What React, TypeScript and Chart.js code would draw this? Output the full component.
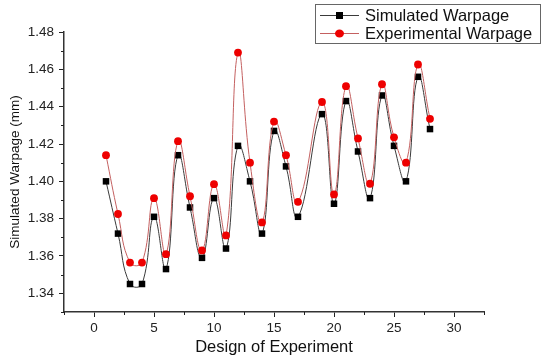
import React, { useEffect, useRef } from "react";
import { Chart, registerables } from "chart.js";

Chart.register(...registerables);

// ---- data ----
const designs = [1, 2, 3, 4, 5, 6, 7, 8, 9, 10, 11, 12, 13, 14, 15, 16, 17, 19, 20, 21, 22, 23, 24, 25, 26, 27, 28];
const simulatedWarpage = [
  1.400, 1.372, 1.345, 1.345, 1.381, 1.353, 1.414, 1.386, 1.359, 1.391, 1.364, 1.419, 1.400, 1.372,
  1.427, 1.408, 1.381, 1.436, 1.388, 1.443, 1.416, 1.391, 1.446, 1.419, 1.400, 1.456, 1.428,
];
const experimentalWarpage = [
  1.414, 1.3825, 1.3565, 1.3565, 1.391, 1.361, 1.4215, 1.392, 1.363, 1.3985, 1.371, 1.469, 1.410, 1.378,
  1.432, 1.414, 1.389, 1.4425, 1.393, 1.451, 1.423, 1.3987, 1.452, 1.4236, 1.410, 1.4626, 1.4335,
];
const seriesNames = ["Simulated Warpage", "Experimental Warpage"];
const yTicks = [1.34, 1.36, 1.38, 1.40, 1.42, 1.44, 1.46, 1.48];
const yMinorTicks = [1.33, 1.35, 1.37, 1.39, 1.41, 1.43, 1.45, 1.47];
const xTicks = [0, 5, 10, 15, 20, 25, 30];
const xMinorTicks = [-2.5, 2.5, 7.5, 12.5, 17.5, 22.5, 27.5, 32.5];
const yTitle = "Simulated Warpage (mm)";
const xTitle = "Design of Experiment";

const FONT = "'Liberation Sans', Arial, sans-serif";
const BLACK_LINE = "#3a3a3a";
const RED_LINE = "#c46060";
const RED_POINT = "#ee0000";

const minorTicksPlugin = {
  id: "minorTicks",
  afterDraw(chart: any) {
    const { ctx, chartArea, scales } = chart;
    const x = scales.x;
    const y = scales.y;
    ctx.save();
    ctx.strokeStyle = "#222";
    ctx.lineWidth = 1;
    ctx.beginPath();
    for (const v of yMinorTicks) {
      const py = Math.round(y.getPixelForValue(v)) + 0.5;
      ctx.moveTo(chartArea.left - 3, py);
      ctx.lineTo(chartArea.left, py);
    }
    for (const v of xMinorTicks) {
      const px = Math.round(x.getPixelForValue(v)) + 0.5;
      ctx.moveTo(px, chartArea.bottom);
      ctx.lineTo(px, chartArea.bottom + 3);
    }
    ctx.stroke();
    ctx.restore();
  },
};

const legendPlugin = {
  id: "boxLegend",
  afterDraw(chart: any) {
    const { ctx } = chart;
    const bx = 315, by = 4, bw = 225, bh = 39;
    ctx.save();
    ctx.fillStyle = "#fff";
    ctx.fillRect(bx, by, bw, bh);
    ctx.strokeStyle = "#666";
    ctx.lineWidth = 1;
    ctx.strokeRect(bx + 0.5, by + 0.5, bw, bh);
    const rows = [by + 11, by + 29];
    chart.data.datasets.forEach((ds: any, i: number) => {
      const cy = rows[i];
      ctx.strokeStyle = ds.borderColor;
      ctx.lineWidth = 1;
      ctx.beginPath();
      ctx.moveTo(bx + 5, cy + 0.5);
      ctx.lineTo(bx + 44, cy + 0.5);
      ctx.stroke();
      ctx.fillStyle = ds.pointBackgroundColor;
      if (ds.pointStyle === "rect") {
        ctx.fillRect(bx + 21, cy - 3, 7, 7);
      } else {
        ctx.beginPath();
        ctx.ellipse(bx + 24.5, cy + 0.5, 4.5, 4, 0, 0, Math.PI * 2);
        ctx.fill();
      }
      ctx.fillStyle = "#111";
      ctx.font = `16.5px ${FONT}`;
      ctx.textBaseline = "middle";
      ctx.textAlign = "left";
      ctx.fillText(ds.label, bx + 50, cy + 1);
    });
    ctx.restore();
  },
};

export default function App() {
  const ref = useRef<HTMLCanvasElement | null>(null);

  useEffect(() => {
    if (!ref.current) return;
    const chart = new Chart(ref.current, {
      type: "line",
      data: {
        datasets: [
          {
            label: seriesNames[0],
            data: designs.map((d, i) => ({ x: d, y: simulatedWarpage[i] })),
            borderColor: BLACK_LINE,
            borderWidth: 1,
            backgroundColor: "#000",
            pointStyle: "rect",
            pointBackgroundColor: "#000",
            pointBorderColor: "#000",
            pointBorderWidth: 0,
            pointRadius: 4.6,
            tension: 0.45,
            order: 1,
          },
          {
            label: seriesNames[1],
            data: designs.map((d, i) => ({ x: d, y: experimentalWarpage[i] })),
            borderColor: RED_LINE,
            borderWidth: 1,
            backgroundColor: RED_POINT,
            pointStyle: "circle",
            pointBackgroundColor: RED_POINT,
            pointBorderColor: RED_POINT,
            pointBorderWidth: 0,
            pointRadius: 3.9,
            tension: 0.45,
            order: 0,
          },
        ],
      },
      options: {
        animation: false,
        responsive: false,
        layout: { padding: { left: 0, top: 32, right: 66, bottom: 0 } },
        plugins: {
          legend: { display: false },
          tooltip: { enabled: false },
        },
        scales: {
          x: {
            type: "linear",
            min: -2.5,
            max: 32.5,
            afterFit: (s: any) => {
              s.height = 48;
            },
            afterBuildTicks: (s: any) => {
              s.ticks = xTicks.map((v) => ({ value: v }));
            },
            grid: { drawOnChartArea: false, drawTicks: true, tickLength: 5, color: "#222" },
            border: { display: true, color: "#333", width: 1.5 },
            ticks: { color: "#222", font: { family: FONT, size: 13.5 }, padding: 3, maxRotation: 0 },
            title: {
              display: true,
              text: xTitle,
              color: "#111",
              font: { family: FONT, size: 16.5 },
              padding: { top: 0, bottom: 3 },
            },
          },
          y: {
            type: "linear",
            min: 1.33,
            max: 1.48,
            afterFit: (s: any) => {
              s.width = 64;
            },
            afterBuildTicks: (s: any) => {
              s.ticks = yTicks.map((v) => ({ value: v }));
            },
            grid: { drawOnChartArea: false, drawTicks: true, tickLength: 5, color: "#222" },
            border: { display: true, color: "#333", width: 1.5 },
            ticks: {
              color: "#222",
              font: { family: FONT, size: 13.5 },
              padding: 5,
              callback: (v: any) => Number(v).toFixed(2),
            },
            title: {
              display: true,
              text: yTitle,
              color: "#111",
              font: { family: FONT, size: 13.5 },
              padding: { top: 7, bottom: 0 },
            },
          },
        },
      },
      plugins: [minorTicksPlugin, legendPlugin],
    });
    return () => chart.destroy();
  }, []);

  return (
    <div style={{ position: "absolute", left: 0, top: 0, width: 550, height: 360, background: "#fff" }}>
      <canvas ref={ref} width={550} height={360} style={{ display: "block" }} />
    </div>
  );
}
